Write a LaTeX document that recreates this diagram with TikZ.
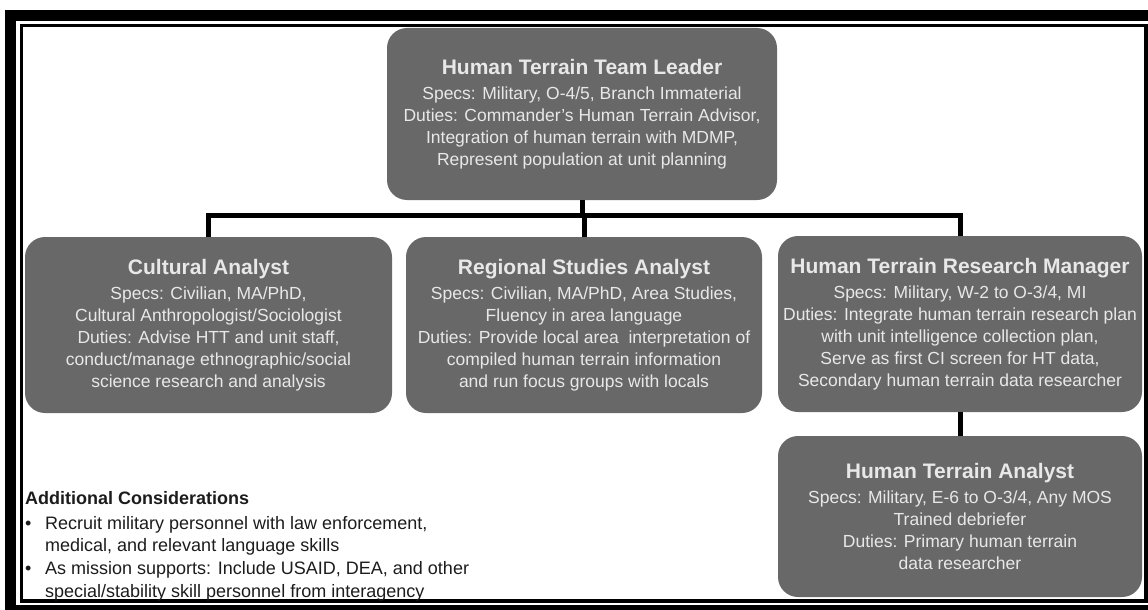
\documentclass[tikz,border=0pt]{standalone}
\usepackage{fontspec}
\setmainfont{Liberation Sans}
\usetikzlibrary{positioning}
\definecolor{boxgray}{RGB}{104,104,104}
\definecolor{boxtext}{RGB}{232,232,232}
\definecolor{notetext}{RGB}{28,28,28}
\tikzset{
    rolebox/.style={draw=none, fill=boxgray, rounded corners=20pt, text=boxtext,
        align=center, inner sep=0pt, font=\fontsize{17.5}{22}\selectfont},
    link/.style={line width=5pt, black},
}
\newcommand{\roletitle}[1]{{\fontsize{21}{25}\selectfont\bfseries #1}\\[3pt]}

\begin{document}
\begin{tikzpicture}[x=1pt,y=-1pt]
            \useasboundingbox (0,0) rectangle (1148,610);
            \begin{scope}
                % frame
                \draw [line width=11pt] (10.5,15.5) rectangle (1154,610.5);
                \draw [line width=3.5pt] (21.5,25.5) rectangle (1146,601);
            \end{scope}

            % boxes
            \node [rolebox, minimum width=390pt, minimum height=172pt] (leader) at (582,114)
                {\roletitle{Human Terrain Team Leader}
                Specs: Military, O-4/5, Branch Immaterial\\
                Duties: Commander's Human Terrain Advisor,\\
                Integration of human terrain with MDMP,\\
                Represent population at unit planning};
            \node [rolebox, minimum width=367pt, minimum height=176pt] (cultural) at (208.5,325)
                {\roletitle{Cultural Analyst}
                Specs: Civilian, MA/PhD,\\
                Cultural Anthropologist/Sociologist\\
                Duties: Advise HTT and unit staff,\\
                conduct/manage ethnographic/social\\
                science research and analysis};
            \node [rolebox, minimum width=356pt, minimum height=176pt] (regional) at (584,325)
                {\roletitle{Regional Studies Analyst}
                Specs: Civilian, MA/PhD, Area Studies,\\
                Fluency in area language\\
                Duties: Provide local area\ \ interpretation of\\
                compiled human terrain information\\
                and run focus groups with locals};
            \node [rolebox, minimum width=364pt, minimum height=176pt] (manager) at (960,324)
                {\roletitle{Human Terrain Research Manager}
                Specs: Military, W-2 to O-3/4, MI\\
                Duties: Integrate human terrain research plan\\
                with unit intelligence collection plan,\\
                Serve as first CI screen for HT data,\\
                Secondary human terrain data researcher};
            \node [rolebox, minimum width=364pt, minimum height=161pt] (analyst) at (960,516.5)
                {\roletitle{Human Terrain Analyst}
                Specs: Military, E-6 to O-3/4, Any MOS\\
                Trained debriefer\\
                Duties: Primary human terrain\\
                data researcher};

            % connectors
            \coordinate (bus) at (0,215);
            \draw [link] (leader.south) -- (leader.south |- bus);
            \draw [link] (cultural.north) |- (bus -| manager.north) -- (manager.north);
            \draw [link] (regional.north) -- (regional.north |- bus);
            \draw [link] (manager.south) -- (analyst.north);

            % notes
            \node [anchor=north west, inner sep=0pt, align=left, text=notetext,
                font=\fontsize{18}{22.8}\selectfont] (notes) at (25,491)
                {{\bfseries Additional Considerations}\\[2pt]
                \makebox[20pt][l]{\textbullet}Recruit military personnel with law enforcement,\\
                \hspace*{20pt}medical, and relevant language skills\\
                \makebox[20pt][l]{\textbullet}As mission supports: Include USAID, DEA, and other\\
                \hspace*{20pt}special/stability skill personnel from interagency};
\end{tikzpicture}
\end{document}
